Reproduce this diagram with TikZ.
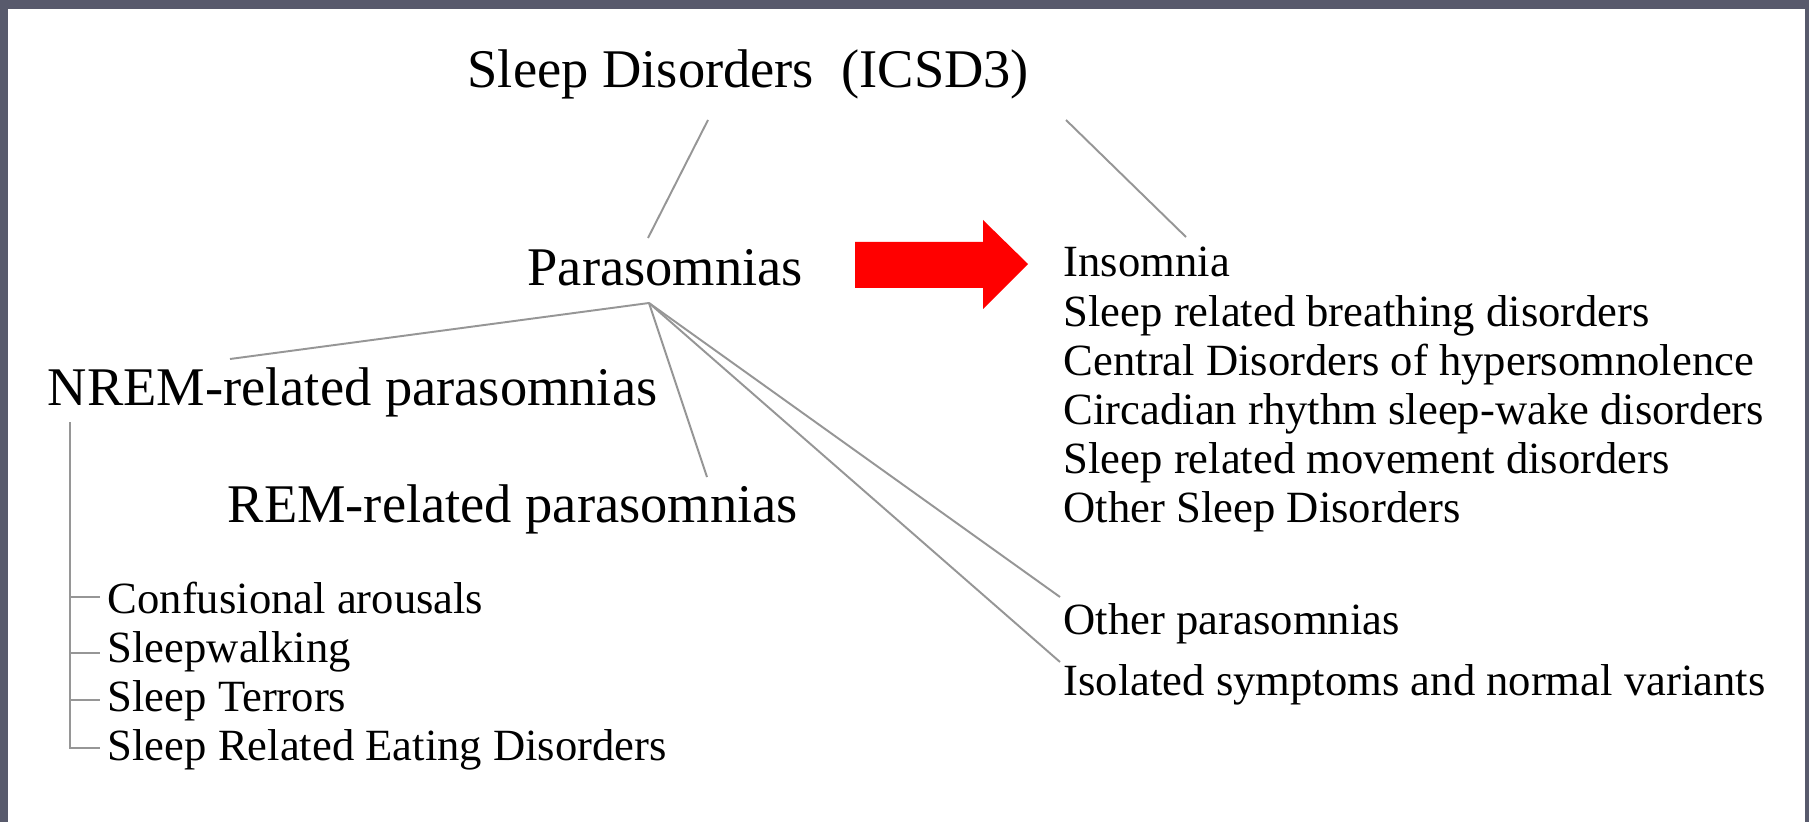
\documentclass[tikz,border=0pt]{standalone}
\usepackage{fontspec}
\setmainfont{Liberation Serif}
\usetikzlibrary{calc}
\definecolor{framegray}{RGB}{88,90,108}
\definecolor{branchgray}{RGB}{150,150,150}
\definecolor{arrowred}{RGB}{255,0,0}
\tikzset{
  bigtext/.style={anchor=base west, inner sep=0pt, font=\fontsize{15.5}{18}\selectfont},
  smalltext/.style={anchor=base west, inner sep=0pt, font=\fontsize{12.7}{15}\selectfont},
  branch/.style={draw=branchgray, line width=0.55pt},
  bracket/.style={draw=branchgray, line width=0.8pt},
}

\begin{document}
\begin{tikzpicture}
			%%%%% FRAME %%%%%
			\fill[framegray] (0, 0) rectangle (18.09, 8.22);
			\fill[white] (0.08, 0) rectangle (18.05, 8.13);
			\useasboundingbox (0, 0) rectangle (18.09, 8.22);
			
			%%%%% HEADINGS %%%%%
			\node[bigtext] (title) at (4.67, 7.34) {Sleep Disorders~~(ICSD3)};
			\node[bigtext] (para) at (5.27, 5.37) {Parasomnias};
			\node[bigtext] (nrem) at (0.47, 4.16) {NREM-related parasomnias};
			\node[bigtext] (rem) at (2.27, 3.00) {REM-related parasomnias};
			
			%%%%% NREM LIST %%%%%
			\node[smalltext] (confus) at (1.07, 2.09) {Confusional arousals};
			\node[smalltext] (walk) at (1.07, 1.60) {Sleepwalking};
			\node[smalltext] (terror) at (1.07, 1.11) {Sleep Terrors};
			\node[smalltext] (eating) at (1.07, 0.62) {Sleep Related Eating Disorders};
			
			%%%%% ICSD3 LIST %%%%%
			\node[smalltext] (insom) at (10.63, 5.45) {Insomnia};
			\node[smalltext] (breath) at (10.63, 4.96) {Sleep related breathing disorders};
			\node[smalltext] (hyper) at (10.63, 4.47) {Central Disorders of hypersomnolence};
			\node[smalltext] (circ) at (10.63, 3.98) {Circadian rhythm sleep-wake disorders};
			\node[smalltext] (move) at (10.63, 3.49) {Sleep related movement disorders};
			\node[smalltext] (othsleep) at (10.63, 3.00) {Other Sleep Disorders};
			
			\node[smalltext] (othpara) at (10.63, 1.88) {Other parasomnias};
			\node[smalltext] (isol) at (10.63, 1.27) {Isolated symptoms and normal variants};
			
			%%%%% BRANCH ENDS %%%%%
			\coordinate (title-l) at (7.08, 7.02);
			\coordinate (title-r) at (10.66, 7.02);
			\coordinate (para-top) at (6.48, 5.84);
			\coordinate (insom-top) at (11.86, 5.85);
			\coordinate (apex) at (6.49, 5.19);
			\coordinate (nrem-top) at (2.30, 4.63);
			\coordinate (rem-top) at (7.07, 3.45);
			\coordinate (othpara-end) at (10.60, 2.25);
			\coordinate (isol-end) at (10.60, 1.60);
			
			\draw[branch] (title-l) -- (para-top);
			\draw[branch] (title-r) -- (insom-top);
			\draw[branch] (apex) -- (nrem-top);
			\draw[branch] (apex) -- (rem-top);
			\draw[branch] (apex) -- (othpara-end);
			\draw[branch] (apex) -- (isol-end);
			
			%%%%% NREM BRACKET %%%%%
			\draw[bracket] (0.70, 4.00) -- (0.70, 0.74) -- (1.00, 0.74);
			\draw[bracket] (0.70, 2.25) -- (1.00, 2.25);
			\draw[bracket] (0.70, 1.69) -- (1.00, 1.69);
			\draw[bracket] (0.70, 1.22) -- (1.00, 1.22);
			
			%%%%% RED ARROW %%%%%
			\fill[arrowred] (8.55, 5.80) -- (9.83, 5.80) -- (9.83, 6.02) -- (10.28, 5.58)
				-- (9.83, 5.13) -- (9.83, 5.34) -- (8.55, 5.34) -- cycle;
\end{tikzpicture}
\end{document}
